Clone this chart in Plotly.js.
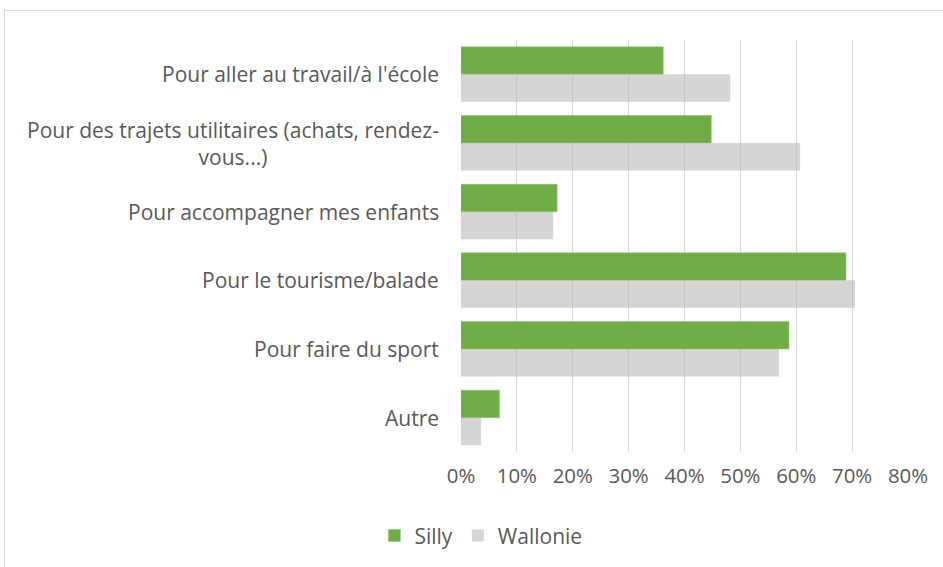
<!DOCTYPE html>
<html>
<head>
<meta charset="utf-8">
<script src="https://cdn.plot.ly/plotly-3.0.1.min.js"></script>
<style>
  html, body { margin: 0; padding: 0; background: #fff; }
  #wrap { position: relative; width: 943px; height: 567px; overflow: hidden; }
  #frame { position: absolute; left: 4px; top: 10px; width: 960px; height: 600px;
           border-left: 1px solid #d9d9d9; border-top: 1px solid #d9d9d9; pointer-events: none; }
  #chart { position: absolute; left: 0; top: 0; width: 943px; height: 567px; }
</style>
</head>
<body>
<div id="wrap">
  <div id="chart"></div>
  <div id="frame"></div>
</div>
<script>
const categories = [
  "Pour aller au travail/à l'école",
  "Pour des trajets utilitaires (achats, rendez-<br>vous...)",
  "Pour accompagner mes enfants",
  "Pour le tourisme/balade",
  "Pour faire du sport",
  "Autre"
];
const seriesNames = ["Silly", "Wallonie"];
const silly = [0.362, 0.448, 0.172, 0.689, 0.587, 0.069];
const wallonie = [0.482, 0.607, 0.165, 0.705, 0.569, 0.036];
const tickVals = [0, 0.1, 0.2, 0.3, 0.4, 0.5, 0.6, 0.7, 0.8];
const tickText = ["0%", "10%", "20%", "30%", "40%", "50%", "60%", "70%", "80%"];

const FONT = "'Open Sans', Lato, sans-serif";
const TXT = "#595959";

const traces = [
  { type: "bar", orientation: "h", name: seriesNames[0], x: silly, y: categories,
    marker: { color: "#70ad47", line: { color: "#8cc46a", width: 0.5 } }, hoverinfo: "x+y" },
  { type: "bar", orientation: "h", name: seriesNames[1], x: wallonie, y: categories,
    marker: { color: "rgba(181,177,179,0.55)", line: { width: 0 } }, hoverinfo: "x+y" }
];

const annotations = categories.map(c => ({
  x: 0, xref: "x", y: c, yref: "y", text: c, showarrow: false,
  xanchor: "right", yanchor: "middle", align: "center", xshift: -20,
  font: { family: FONT, size: 21, color: TXT }
}));

const layout = {
  width: 943, height: 567,
  margin: { l: 461, r: 35, t: 40, b: 115 },
  paper_bgcolor: "rgba(0,0,0,0)", plot_bgcolor: "rgba(0,0,0,0)",
  barmode: "group", bargap: 0.2, bargroupgap: 0,
  font: { family: FONT, size: 20, color: TXT },
  xaxis: {
    range: [0, 0.8], tickvals: tickVals, ticktext: tickText,
    showgrid: true, gridcolor: "#d9d9d9", gridwidth: 1.2,
    zeroline: false, showline: false, ticks: "", ticklabelstandoff: 10,
    tickfont: { family: FONT, size: 20.4, color: TXT }, fixedrange: true
  },
  yaxis: {
    type: "category", autorange: "reversed", showticklabels: false,
    showgrid: false, zeroline: false, showline: false, ticks: "", fixedrange: true
  },
  showlegend: true,
  legend: {
    orientation: "h", xref: "container", yref: "container",
    x: 0.51, xanchor: "center", y: 0.055, yanchor: "middle",
    font: { family: FONT, size: 21, color: TXT }, itemwidth: 30,
    traceorder: "normal", bgcolor: "rgba(0,0,0,0)"
  },
  annotations: annotations
};

Plotly.newPlot("chart", traces, layout, { displayModeBar: false, staticPlot: true });
</script>
</body>
</html>
